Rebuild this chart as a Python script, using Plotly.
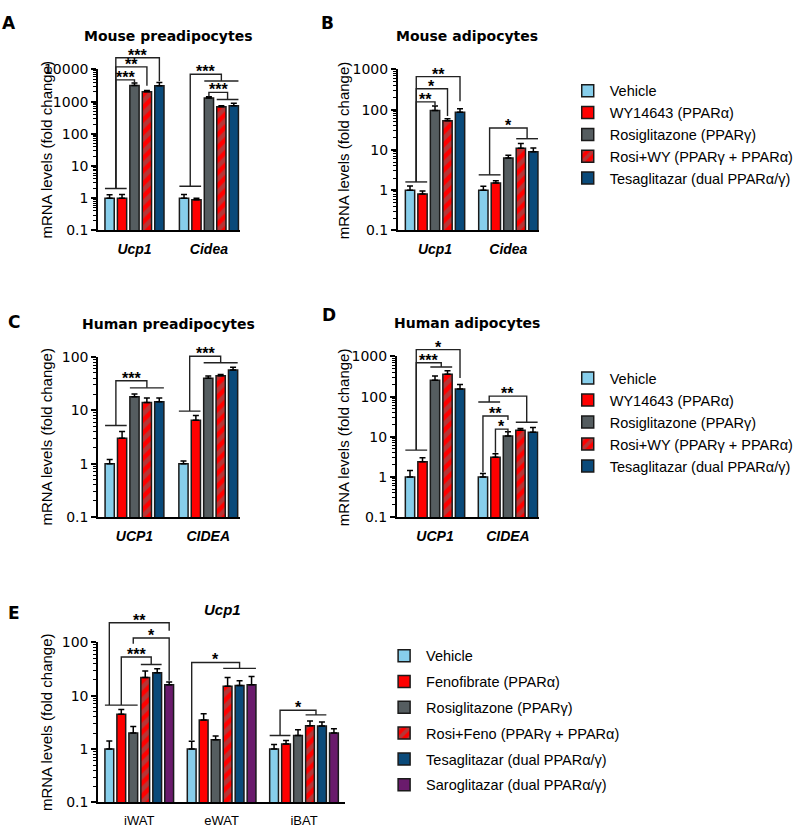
import math
import plotly.graph_objects as go

FIG_W, FIG_H = 799, 835

# ---------------- data ----------------
treat_cells = ["Vehicle", "WY14643 (PPARα)", "Rosiglitazone (PPARγ)",
               "Rosi+WY (PPARγ + PPARα)", "Tesaglitazar (dual PPARα/γ)"]
treat_mice = ["Vehicle", "Fenofibrate (PPARα)", "Rosiglitazone (PPARγ)",
              "Rosi+Feno (PPARγ + PPARα)", "Tesaglitazar (dual PPARα/γ)",
              "Saroglitazar (dual PPARα/γ)"]

genes_mouse = ["Ucp1", "Cidea"]
genes_human = ["UCP1", "CIDEA"]
depots = ["iWAT", "eWAT", "iBAT"]

# rows = treatments, columns = genes / depots
a_mean = [[1.0, 1.0], [1.0, 0.9], [3200, 1300], [2040, 690], [3150, 750]]
a_sem = [[0.28, 0.3], [0.3, 0.1], [600, 110], [200, 60], [800, 140]]

b_mean = [[1.0, 1.0], [0.8, 1.5], [96, 6.3], [53, 11], [86, 9.0]]
b_sem = [[0.27, 0.25], [0.15, 0.22], [28, 1.1], [7, 3.5], [20, 2.2]]

c_mean = [[1.0, 1.0], [3.0, 6.5], [18, 40], [14, 44.5], [14.5, 57]]
c_sem = [[0.2, 0.12], [1.0, 1.5], [2.2, 4], [3, 2.5], [2.5, 7]]

d_mean = [[1.0, 1.0], [2.4, 3.1], [255, 10.5], [360, 14.5], [155, 13]]
d_sem = [[0.45, 0.22], [0.6, 0.7], [70, 2.8], [80, 1.5], [45, 4]]

e_mean = [[1.0, 1.0, 1.0], [4.5, 3.5, 1.25], [2.0, 1.5, 1.8],
          [22, 15, 2.75], [27, 15.5, 2.7], [16, 16, 2.0]]
e_sem = [[0.42, 0.4, 0.22], [1.0, 1.1, 0.2], [0.65, 0.25, 0.5],
         [7, 7, 0.6], [5, 3.5, 0.5], [2, 7, 0.4]]

y_tick_vals = [0.1, 1, 10, 100, 1000, 10000]
y_tick_text = ["0.1", "1", "10", "100", "1000", "10000"]

# significance brackets: (label, group, left bars, right bars, level, left drop, right drop)
a_brackets = [("***", 0, [0, 1], [4], 23200, 2.0, 4300),
              ("**", 0, [0, 1], [3], 12080, 2.0, 3100),
              ("***", 0, [0, 1], [2], 4750, 2.0, 3900),
              ("***", 1, [0, 1], [2, 3, 4], 7140, 2.35, 4370),
              ("***", 1, [2], [3, 4], 1950, 1450, 1166)]
a_groups = [(0, [0, 1], 2.0), (1, [0, 1], 2.35), (1, [2, 3, 4], 4370), (1, [3, 4], 1166)]

b_brackets = [("**", 0, [0, 1], [4], 664, 1.6, 163),
              ("*", 0, [0, 1], [3], 333, 1.6, 70),
              ("**", 0, [0, 1], [2], 157, 1.6, 130),
              ("*", 1, [0, 1], [3, 4], 35.2, 2.4, 19)]
b_groups = [(0, [0, 1], 1.6), (1, [0, 1], 2.4), (1, [3, 4], 19)]

c_brackets = [("***", 0, [0, 1], [2, 3, 4], 35.8, 5.18, 26.3),
              ("***", 1, [0, 1], [2, 3, 4], 103, 9.64, 77.6)]
c_groups = [(0, [0, 1], 5.18), (0, [2, 3, 4], 26.3), (1, [0, 1], 9.64), (1, [2, 3, 4], 77.6)]

d_brackets = [("*", 0, [0, 1], [4], 1482, 4.66, 290),
              ("***", 0, [0, 1], [2, 3], 697, 4.66, 547),
              ("**", 1, [0, 1], [3, 4], 103, 73.4, 23),
              ("**", 1, [0], [2], 32.8, 1.3, 26.2),
              ("*", 1, [1], [2], 15.5, 4.0, 12.4)]
d_groups = [(0, [0, 1], 4.66), (0, [2, 3], 547), (1, [0, 1], 73.4), (1, [3, 4], 23)]

e_brackets = [("**", 0, [0], [5], 233, 6.67, 164),
              ("*", 0, [2], [5], 120.5, 93.5, 19),
              ("***", 0, [1], [3, 4], 53, 6.67, 38.5),
              ("*", 1, [0], [3, 4, 5], 41.9, 1.46, 32.5),
              ("*", 2, [0, 1], [3, 4], 5.33, 1.8, 4.37)]
e_groups = [(0, [0, 1, 2], 6.67), (0, [3, 4], 38.5), (1, [3, 4, 5], 32.5),
            (2, [0, 1], 1.8), (2, [3, 4], 4.37)]

# ---------------- styles ----------------
COL_VEH = "#87CEEB"
COL_RED = "#FF0000"
COL_ROSI = "#555D60"
COL_STRIPE = "#6B6B6B"
COL_TESA = "#0A4A7A"
COL_SARO = "#6A1B6C"
fills = [COL_VEH, COL_RED, COL_ROSI, "stripe", COL_TESA, COL_SARO]

TICK_FONT = dict(family="DejaVu Sans", size=14, color="black")
TXT = "Liberation Sans, Arial, sans-serif"

panels = [
    dict(id="A", ax="", x0=99, x1=241.7, y0=62.7, y1=226.7, top=4, c0=135.5, unit=75.0, W=0.836,
         cats=genes_mouse, mean=a_mean, sem=a_sem, names=treat_cells, br=a_brackets, gl=a_groups,
         legend="legend", show=True, lg="ab", title="Mouse preadipocytes", tx=169.5, ty=29,
         letter=(9.5, 15.5), ylab_x=47, italic=True),
    dict(id="B", ax="2", x0=401, x1=543, y0=62.7, y1=226.7, top=3, c0=438.3, unit=73.9, W=0.852,
         cats=genes_mouse, mean=b_mean, sem=b_sem, names=treat_cells, br=b_brackets, gl=b_groups,
         legend="legend", show=False, lg="ab", title="Mouse adipocytes", tx=471, ty=29,
         letter=(330, 15.5), ylab_x=347, italic=True),
    dict(id="C", ax="3", x0=99, x1=241.7, y0=355.7, y1=519, top=2, c0=135.5, unit=74.35, W=0.84,
         cats=genes_human, mean=c_mean, sem=c_sem, names=treat_cells, br=c_brackets, gl=c_groups,
         legend="legend2", show=True, lg="cd", title="Human preadipocytes", tx=170, ty=322,
         letter=(14, 320), ylab_x=47, italic=True),
    dict(id="D", ax="4", x0=400, x1=542.7, y0=355.3, y1=519, top=3, c0=438.3, unit=73.5, W=0.857,
         cats=genes_human, mean=d_mean, sem=d_sem, names=treat_cells, br=d_brackets, gl=d_groups,
         legend="legend2", show=False, lg="cd", title="Human adipocytes", tx=471, ty=321,
         letter=(331, 312.5), ylab_x=346, italic=True),
    dict(id="E", ax="5", x0=99, x1=347.7, y0=646.7, y1=810, top=2, c0=140.3, unit=83.0, W=0.872,
         cats=depots, mean=e_mean, sem=e_sem, names=treat_mice, br=e_brackets, gl=e_groups,
         legend="legend3", show=True, lg="e", title="<i>Ucp1</i>", tx=224, ty=613.5,
         letter=(14, 617), ylab_x=47, italic=False),
]

GAP_PX = 3.2

fig = go.Figure()
shapes = []
annotations = []


def px_x(p):
    return p / FIG_W


def px_y(p):
    return 1 - p / FIG_H


for P in panels:
    xa = "x" + P["ax"]
    ya = "y" + P["ax"]
    n = len(P["names"])
    W = P["W"]
    slot = W / n
    bgg = GAP_PX / (slot * P["unit"])
    ncat = len(P["cats"])
    for i in range(n):
        f = fills[i]
        if f == "stripe":
            marker = dict(color=COL_RED, line=dict(color="#1a1a1a", width=1.5),
                          pattern=dict(shape="/", fgcolor=COL_STRIPE, bgcolor=COL_RED,
                                       size=9, solidity=0.5))
        else:
            marker = dict(color=f, line=dict(color="#1a1a1a", width=1.5))
        fig.add_trace(go.Bar(
            x=list(range(ncat)), y=[P["mean"][i][g] for g in range(ncat)],
            offset=-W / 2 + i * slot + slot * bgg / 2, width=slot * (1 - bgg),
            marker=marker,
            error_y=dict(type="data", symmetric=False,
                         array=[P["sem"][i][g] for g in range(ncat)],
                         arrayminus=[0] * ncat, color="black", thickness=1.5, width=3),
            name=P["names"][i], xaxis=xa, yaxis=ya,
            showlegend=P["show"], legend=P["legend"], legendgroup=P["lg"] + str(i),
        ))

    lo, hi = -1, P["top"]
    xr = [(P["x0"] - P["c0"]) / P["unit"], (P["x1"] - P["c0"]) / P["unit"]]
    xkey = "xaxis" + P["ax"]
    ykey = "yaxis" + P["ax"]
    minor_vals = [m * 10.0 ** k for k in range(lo, hi) for m in range(2, 10)]
    fig.layout[xkey] = dict(
        domain=[px_x(P["x0"]), px_x(P["x1"])], range=xr, anchor=ya,
        tickvals=list(range(ncat)), ticktext=P["cats"], showline=True, linecolor="black",
        linewidth=2, ticks="", showgrid=False, zeroline=False, fixedrange=True,
        tickfont=(dict(family=TXT, size=14, color="black", weight="bold", style="italic")
                  if P["italic"] else dict(family=TXT, size=13, color="black")),
        ticklabelstandoff=5)
    fig.layout[ykey] = dict(
        domain=[px_y(P["y1"]), px_y(P["y0"])], type="log", range=[lo, hi], anchor=xa,
        tickmode="array", tickvals=y_tick_vals[: hi + 2], ticktext=y_tick_text[: hi + 2],
        showline=True, linecolor="black", linewidth=2, ticks="outside", ticklen=5,
        tickwidth=1.5, tickcolor="black", showgrid=False, zeroline=False, fixedrange=True,
        minor=dict(ticks="outside", ticklen=3, tickwidth=1, tickcolor="black",
                   tickmode="array", tickvals=minor_vals, showgrid=False),
        tickfont=TICK_FONT)

    def bc(g, i):
        return g - W / 2 + (i + 0.5) * slot

    def yd(v):
        return (math.log10(v) - lo) / (hi - lo)

    LINE = dict(color="#222222", width=1.4)
    for g, bars, yv in P["gl"]:
        half = slot * (1 - bgg) / 2
        shapes.append(dict(type="line", xref=xa, yref=ya + " domain",
                           x0=bc(g, bars[0]) - half, x1=bc(g, bars[-1]) + half,
                           y0=yd(yv), y1=yd(yv), line=LINE, layer="above"))
    for lab, g, lb, rb, yv, dl, dr in P["br"]:
        xl = sum(bc(g, b) for b in lb) / len(lb)
        xr_ = sum(bc(g, b) for b in rb) / len(rb)
        shapes.append(dict(type="path", xref=xa, yref=ya + " domain",
                           path=f"M{xl},{yd(dl)} L{xl},{yd(yv)} L{xr_},{yd(yv)} L{xr_},{yd(dr)}",
                           line=LINE, layer="above"))
        annotations.append(dict(text=lab, xref=xa, yref=ya + " domain", x=(xl + xr_) / 2,
                                y=yd(yv), yanchor="bottom", xanchor="center", showarrow=False,
                                yshift=-8, font=dict(family=TXT, size=16, color="black",
                                                     weight="bold")))

    annotations.append(dict(text="<b>" + P["title"] + "</b>", xref="paper", yref="paper",
                            x=px_x(P["tx"]), y=px_y(P["ty"]), xanchor="center",
                            yanchor="middle", showarrow=False,
                            font=dict(family="DejaVu Sans" if P["italic"] else TXT,
                                      size=14 if P["italic"] else 15, color="black")))
    annotations.append(dict(text="<b>" + P["id"] + "</b>", xref="paper", yref="paper",
                            x=px_x(P["letter"][0]), y=px_y(P["letter"][1]), xanchor="center",
                            yanchor="middle", showarrow=False,
                            font=dict(family="DejaVu Sans", size=17, color="black")))
    annotations.append(dict(text="mRNA levels (fold change)", xref="paper", yref="paper",
                            x=px_x(P["ylab_x"]), y=px_y((P["y0"] + P["y1"]) / 2),
                            xanchor="center", yanchor="middle", textangle=-90,
                            showarrow=False, font=dict(family=TXT, size=15, color="black")))

LEG_FONT = dict(family=TXT, size=14.5, color="black")
common_leg = dict(xanchor="left", yanchor="top", font=LEG_FONT, bgcolor="rgba(0,0,0,0)",
                  traceorder="grouped", itemwidth=34)
fig.update_layout(
    width=FIG_W, height=FIG_H, margin=dict(l=0, r=0, t=0, b=0),
    paper_bgcolor="white", plot_bgcolor="white", barmode="overlay",
    shapes=shapes, annotations=annotations,
    legend=dict(x=px_x(570), y=px_y(68.1), tracegroupgap=0, **common_leg),
    legend2=dict(x=px_x(570), y=px_y(361.1), tracegroupgap=0.15, **common_leg),
    legend3=dict(x=px_x(385), y=px_y(644.1), tracegroupgap=3.95, **common_leg),
)

# remove the browser's default 8px page margin so the figure fills the window exactly
fig.write_html("out.html", config={"displayModeBar": False},
               post_script="document.body.style.margin='0px';")
